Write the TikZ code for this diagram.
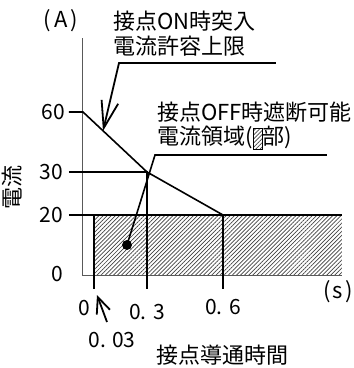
\documentclass[tikz,border=0pt]{standalone}
\usepackage{fontspec}
\setmainfont{Noto Sans CJK JP}
\usepackage{tikz}
\usetikzlibrary{positioning, calc, arrows.meta, patterns.meta}
\tikzset{Leader/.style={
    line width=1.8pt,
    -{Straight Barb[length=27pt, width=17pt, line width=1.8pt]}
    }
}

\begin{document}
\begin{tikzpicture}[x=1pt, y=-1pt,
txt/.style={
    inner sep=0pt,
    font=\fontsize{22}{26}\selectfont
    },
num/.style={
    inner sep=0pt,
    font=\fontsize{21}{24}\selectfont
    },
axis/.style={line width=1pt, black!65},
curve/.style={line width=1.6pt},
hatch/.style={
    pattern={Lines[angle=45, distance=2.9pt, line width=0.7pt]},
    pattern color=black!75
    }
]
\useasboundingbox (0,0) rectangle (354,368);

% points of the graph
\coordinate (o) at (83,275);
\coordinate (ytop) at (83,38);
\coordinate (xend) at (342,275);
\coordinate (p60) at (83,112);
\coordinate (p30) at (147,172);
\coordinate (p20) at (223,215);
\coordinate (h0) at (94,215);

% region
\fill[hatch] (h0) rectangle (xend);

\draw[axis] (ytop) -- (o) -- (xend);

\draw[curve] (69,112) -- (p60) -- (p30) -- (p20);
\draw[curve] (69,172) -- (p30) -- (147,289);
\draw[curve] (69,215) -- (342,215);
\draw[curve] (h0) -- (94,289);
\draw[curve] (p20) -- (223,289);

% axis labels
\node[txt] (unitA) at (61,21) {(\hspace{3pt}A\hspace{3pt})};
\node[txt, rotate=90] (ylab) at (12,187) {電流};
\node[num, anchor=east] (l60) at (65,112) {60};
\node[num, anchor=east] (l30) at (63,172) {30};
\node[num, anchor=east] (l20) at (63,215) {20};
\node[num] (l0) at (57,274) {0};
\node[txt] (unitS) at (338,292) {(\hspace{2pt}s\hspace{2pt})};
\node[num] (t0) at (84,308) {0};
\node[num] (t3) at (147,312) {0. 3};
\node[num] (t6) at (223,307) {0. 6};
\node[num] (t03) at (112,340) {0. 03};
\node[txt, anchor=west] (xlab) at (156,355) {接点導通時間};

% notes
\node[txt, anchor=west] (on1) at (113,21) {接点ON時突入};
\node[txt, anchor=west] (on2) at (113,46) {電流許容上限};
\node[txt, anchor=west] (off1) at (157,112) {接点OFF時遮断可能};
\node[txt, anchor=west] (off2) at (157,138) {電流領域(\tikz[baseline=0pt]\draw[line width=1.2pt, hatch] (0pt,-5pt) rectangle (9pt,16pt);部)};

\coordinate (onEnd) at (276,63);
\coordinate (onBend) at (119,63);
\coordinate (onTip) at (103,131);
\draw[Leader] (onEnd) -- (onBend) -- (onTip);

\coordinate (offEnd) at (327,155);
\coordinate (offBend) at (155,155);
\node[circle, fill, inner sep=0pt, minimum size=10pt] (dot) at (127,245) {};
\draw[curve] (offEnd) -- (offBend) -- (dot.center);

\coordinate (sTail) at (107,322);
\coordinate (sTip) at (97,295);
\draw[Leader, -{Straight Barb[length=16pt, width=14pt, line width=1.8pt]}] (sTail) -- (sTip);

\end{tikzpicture}
\end{document}
